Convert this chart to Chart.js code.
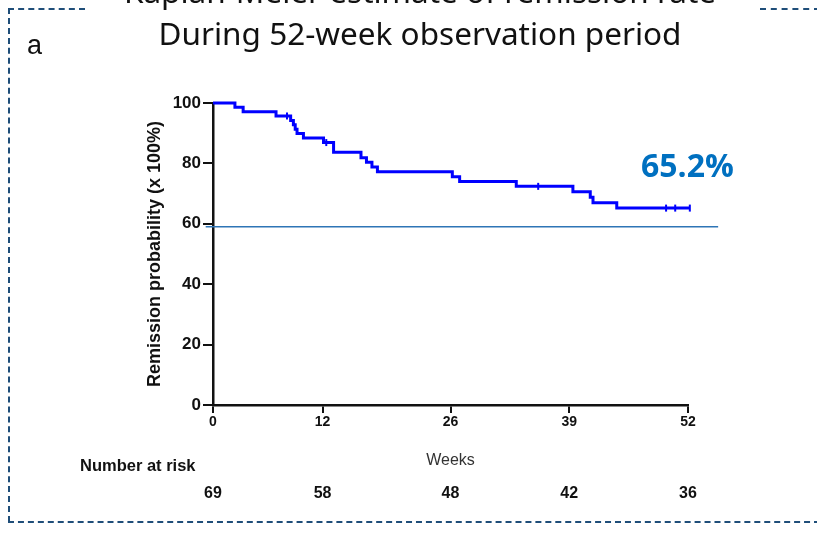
<!DOCTYPE html>
<html>
<head>
<meta charset="utf-8">
<script src="https://cdn.jsdelivr.net/npm/chart.js@4"></script>
<style>
  body { margin: 0; background: #fff; }
  .wrap { position: relative; width: 817px; height: 534px; overflow: hidden; }
  #kmChart { position: absolute; left: 0; top: 0; }
  .dash { position: absolute; border-color: #1f4e79; border-style: dashed; border-width: 0; }
  .title { position: absolute; left: 0; width: 840px; text-align: center; font-family: "Noto Sans", sans-serif; font-size: 31.5px; color: #111; white-space: nowrap; }
  .letter { position: absolute; left: 27px; top: 30px; font-family: Arial, "Liberation Sans", sans-serif; font-size: 27px; color: #111; }
  .final { position: absolute; left: 641px; top: 143px; font-family: "Open Sans", "Noto Sans", sans-serif; font-weight: bold; font-size: 32px; color: #0070c0; }
</style>
</head>
<body>
<div class="wrap">
  <canvas id="kmChart" width="817" height="534"></canvas>
  <div class="dash" style="left:8px; top:8px; width:77px; border-top-width:2px;"></div>
  <div class="dash" style="left:760px; top:8px; width:60px; border-top-width:2px;"></div>
  <div class="dash" style="left:8px; top:8px; height:514px; border-left-width:2px;"></div>
  <div class="dash" style="left:8px; top:521px; width:812px; border-top-width:2px;"></div>
  <div class="title" style="top:-31px;">Kaplan-Meier estimate of remission rate</div>
  <div class="title" style="top:11px;">During 52-week observation period</div>
  <div class="letter">a</div>
  <div class="final">65.2%</div>
</div>
<script>
// Kaplan-Meier steps (week, remission %)
const weeks = [0, 2.4, 3.3, 6.9, 8.5, 8.8, 9.0, 9.2, 9.9, 12.1, 13.2, 16.2, 16.8, 17.4, 18.0, 26.2, 27.0, 33.2, 39.4, 41.3, 41.6, 44.2, 52.2];
const remission = [100, 98.6, 97.1, 95.7, 94.2, 92.8, 91.3, 89.9, 88.4, 86.9, 83.7, 81.9, 80.4, 78.8, 77.2, 75.6, 74.0, 72.4, 70.6, 68.8, 67.0, 65.2, 65.2];

// censored observations
const censorWeeks = [8.1, 12.4, 35.6, 49.6, 50.6, 52.2];
const censorValues = [95.7, 86.9, 72.4, 65.2, 65.2, 65.2];

// reference line
const refWeeks = [-0.8, 55.3];
const refValues = [59, 59];

const xTicks = [0, 12, 26, 39, 52];
const yTicks = [0, 20, 40, 60, 80, 100];
const riskWeeks = [0, 12, 26, 39, 52];
const atRisk = [69, 58, 48, 42, 36];

const toPoints = (xs, ys) => xs.map((x, i) => ({ x: x, y: ys[i] }));

const riskTable = {
  id: 'riskTable',
  afterDraw(chart) {
    const ctx = chart.ctx;
    const xs = chart.scales.x;
    ctx.save();
    ctx.fillStyle = '#111';
    ctx.font = 'bold 16.5px Arial, "Liberation Sans", sans-serif';
    ctx.textAlign = 'left';
    ctx.textBaseline = 'middle';
    ctx.fillText('Number at risk', 80, 466);
    ctx.font = 'bold 16px Arial, "Liberation Sans", sans-serif';
    ctx.textAlign = 'center';
    atRisk.forEach((n, i) => {
      ctx.fillText(String(n), xs.getPixelForValue(riskWeeks[i]), 494);
    });
    ctx.restore();
  }
};

const ctx = document.getElementById('kmChart').getContext('2d');
const kmChart = new Chart(ctx, {
  type: 'scatter',
  data: {
    datasets: [
      {
        label: 'Reference',
        data: toPoints(refWeeks, refValues),
        showLine: true,
        borderColor: '#2e75b6',
        borderWidth: 1.5,
        pointRadius: 0,
        clip: false
      },
      {
        label: 'Remission',
        data: toPoints(weeks, remission),
        showLine: true,
        stepped: true,
        borderColor: '#0000ff',
        borderWidth: 3,
        pointRadius: 0,
        clip: false
      },
      {
        label: 'Censored',
        data: toPoints(censorWeeks, censorValues),
        pointStyle: 'line',
        rotation: 90,
        pointRadius: 3.5,
        borderColor: '#0000ff',
        borderWidth: 2,
        clip: false
      }
    ]
  },
  options: {
    responsive: false,
    animation: false,
    layout: { padding: { left: 140, top: 103, right: 129, bottom: 60 } },
    plugins: {
      legend: { display: false },
      tooltip: { enabled: false }
    },
    scales: {
      x: {
        type: 'linear',
        min: 0,
        max: 52,
        afterBuildTicks: s => { s.ticks = xTicks.map(v => ({ value: v })); },
        afterFit: s => { s.height = 69; },
        border: { color: '#111', width: 2.5 },
        grid: { drawOnChartArea: false, color: '#111', lineWidth: 2, tickLength: 8 },
        ticks: {
          color: '#111',
          padding: 1,
          font: { family: 'Arial, "Liberation Sans", sans-serif', size: 14, weight: 'bold' }
        },
        title: {
          display: true,
          text: 'Weeks',
          color: '#333',
          padding: 4,
          font: { family: 'Arial, "Liberation Sans", sans-serif', size: 16 }
        }
      },
      y: {
        min: 0,
        max: 100,
        afterBuildTicks: s => { s.ticks = yTicks.map(v => ({ value: v })); },
        afterFit: s => { s.width = 213 - 140; },
        border: { color: '#111', width: 2.5 },
        grid: { drawOnChartArea: false, color: '#111', lineWidth: 2, tickLength: 10 },
        ticks: {
          color: '#111',
          padding: 2,
          font: { family: 'Arial, "Liberation Sans", sans-serif', size: 17, weight: 'bold' }
        },
        title: {
          display: true,
          text: 'Remission probability (x 100%)',
          color: '#111',
          padding: 4,
          font: { family: 'Arial, "Liberation Sans", sans-serif', size: 18, weight: 'bold' }
        }
      }
    }
  },
  plugins: [riskTable]
});
</script>
</body>
</html>
